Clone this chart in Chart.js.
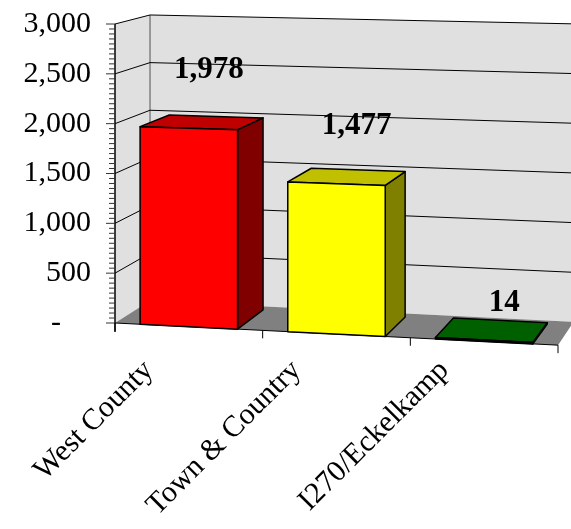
<!DOCTYPE html>
<html>
<head>
<meta charset="utf-8">
<script src="https://cdn.jsdelivr.net/npm/chart.js@4.4.1/dist/chart.umd.min.js"></script>
<style>
  html, body { margin: 0; padding: 0; background: #fff; }
  #wrap { width: 571px; height: 529px; }
</style>
</head>
<body>
<div id="wrap"><canvas id="myChart"></canvas></div>
<script>
var categories = ["West County", "Town & Country", "I270/Eckelkamp"];
var counts = [1978, 1477, 14];
var frontColors = ["#FF0000", "#FFFF00", "#008000"];
var sideColors = ["#800000", "#808000", "#004000"];
var topColors = ["#C00000", "#C0C000", "#006000"];
var yMax = 3000;
var yStep = 500;

// perspective of the excel 3d chart (rough)
var VP_DX = 796, VP_DY = -205;   // vanishing point, relative to chart area top-left
var DEPTH = 0.044;               // full depth of the walls
var BAR_DEPTH = 0.86;            // bars fill this part of it
var SLOPE_TOP = 0.021, SLOPE_EXTRA = 0.029;

function proj(ca, x, y, z) {
	var f = (y - ca.top) / (ca.bottom - ca.top);
	var yf = y + (x - ca.left) * (SLOPE_TOP + SLOPE_EXTRA * f);
	var t = z * DEPTH;
	var vx = ca.left + VP_DX, vy = ca.top + VP_DY;
	return [x + (vx - x) * t, yf + (vy - yf) * t];
}

function poly(ctx, pts, fill, stroke, lw) {
	ctx.beginPath();
	ctx.moveTo(pts[0][0], pts[0][1]);
	for (var i = 1; i < pts.length; i++) ctx.lineTo(pts[i][0], pts[i][1]);
	ctx.closePath();
	if (fill) { ctx.fillStyle = fill; ctx.fill(); }
	if (stroke) { ctx.strokeStyle = stroke; ctx.lineWidth = lw || 1; ctx.stroke(); }
}

function line(ctx, a, b, color, lw) {
	ctx.beginPath();
	ctx.moveTo(a[0], a[1]);
	ctx.lineTo(b[0], b[1]);
	ctx.strokeStyle = color;
	ctx.lineWidth = lw || 1;
	ctx.stroke();
}

var box3d = {
	id: "box3d",
	beforeDatasetsDraw: function(chart) {
		var ctx = chart.ctx, ca = chart.chartArea;
		var ys = chart.scales.y, xs = chart.scales.x;
		var L = ca.left, R = ca.right, T = ca.top, B = ca.bottom;
		ctx.save();
		ctx.lineJoin = "round";
		// walls
		poly(ctx, [proj(ca, L, T, 1), proj(ca, R, T, 1), proj(ca, R, B, 1), proj(ca, L, B, 1)], "#E0E0E0");
		poly(ctx, [proj(ca, L, T, 0), proj(ca, L, T, 1), proj(ca, L, B, 1), proj(ca, L, B, 0)], "#E0E0E0");
		line(ctx, proj(ca, L, T, 1), proj(ca, L, B, 1), "#808080", 1.5);
		// gridlines
		for (var v = yStep; v <= yMax; v += yStep) {
			var y = ys.getPixelForValue(v);
			ctx.beginPath();
			var p0 = proj(ca, L, y, 0), p1 = proj(ca, L, y, 1), p2 = proj(ca, R, y, 1);
			ctx.moveTo(p0[0], p0[1]); ctx.lineTo(p1[0], p1[1]); ctx.lineTo(p2[0], p2[1]);
			ctx.strokeStyle = "#000"; ctx.lineWidth = 1; ctx.stroke();
		}
		// floor
		poly(ctx, [proj(ca, L, B, 0), proj(ca, R, B, 0), proj(ca, R, B, 1), proj(ca, L, B, 1)], "#808080");
		line(ctx, proj(ca, L, B, 0), proj(ca, R, B, 0), "#000", 1);
		// y axis with minor ticks
		line(ctx, [L, T], [L, B + 9], "#000", 1.5);
		for (var m = 0; m <= yMax; m += 50) {
			var my = ys.getPixelForValue(m);
			line(ctx, [L - (m % yStep === 0 ? 9 : 6), my], [L, my], "#333", 1);
		}
		// x tick marks at category boundaries
		var n = categories.length;
		for (var i = 0; i <= n; i++) {
			var bx;
			if (i === 0) bx = L;
			else if (i === n) bx = R;
			else bx = (xs.getPixelForValue(i - 1) + xs.getPixelForValue(i)) / 2;
			var p = proj(ca, bx, B, 0);
			line(ctx, p, [p[0], p[1] + 8], "#000", 1);
		}
		ctx.restore();
	},
	beforeDatasetDraw: function() {
		return false;
	},
	afterDatasetsDraw: function(chart) {
		var ctx = chart.ctx, ca = chart.chartArea;
		var meta = chart.getDatasetMeta(0);
		ctx.save();
		ctx.lineJoin = "round";
		meta.data.forEach(function(el, i) {
			var xl = el.x - el.width / 2, xr = el.x + el.width / 2;
			var yt = el.y, yb = el.base, d = BAR_DEPTH;
			poly(ctx, [proj(ca, xr, yt, 0), proj(ca, xr, yt, d), proj(ca, xr, yb, d), proj(ca, xr, yb, 0)], sideColors[i], "#000", 1.5);
			poly(ctx, [proj(ca, xl, yt, 0), proj(ca, xr, yt, 0), proj(ca, xr, yt, d), proj(ca, xl, yt, d)], topColors[i], "#000", 1.5);
			poly(ctx, [proj(ca, xl, yt, 0), proj(ca, xr, yt, 0), proj(ca, xr, yb, 0), proj(ca, xl, yb, 0)], frontColors[i], "#000", 1.5);
		});
		// value labels
		ctx.font = "bold 31px 'Liberation Serif'";
		ctx.fillStyle = "#000";
		ctx.textAlign = "center";
		ctx.textBaseline = "middle";
		meta.data.forEach(function(el, i) {
			var top = proj(ca, el.x, el.y, 0);
			var up = Math.min(58, (el.base - el.y) + 36);
			ctx.fillText(counts[i].toLocaleString("en-US"), top[0] + 20, top[1] - up);
		});
		ctx.restore();
	}
};

var ctx = document.getElementById("myChart").getContext("2d");
var myChart = new Chart(ctx, {
	type: "bar",
	data: {
		labels: categories,
		datasets: [{
			data: counts,
			backgroundColor: frontColors,
			borderColor: "#000",
			borderWidth: 1.5,
			categoryPercentage: 1,
			barPercentage: 0.66
		}]
	},
	options: {
		responsive: true,
		maintainAspectRatio: false,
		animation: false,
		layout: { padding: { top: 24, right: 13, left: 0, bottom: 0 } },
		plugins: { legend: { display: false }, tooltip: { enabled: false } },
		scales: {
			x: {
				grid: { display: false, drawTicks: false },
				border: { display: false },
				ticks: {
					color: "#000",
					font: { family: "Liberation Serif", size: 30 },
					minRotation: 45,
					maxRotation: 45,
					labelOffset: -40,
					padding: 30
				},
				afterFit: function(scale) {
					scale.height = 206;
					scale.paddingLeft = 0;
					scale.paddingRight = 0;
				}
			},
			y: {
				min: 0,
				max: yMax,
				grid: { display: false, drawTicks: false },
				border: { display: false },
				ticks: {
					stepSize: yStep,
					color: "#000",
					font: { family: "Liberation Serif", size: 30 },
					padding: 24,
					callback: function(v) {
						return v === 0 ? "-\u2007\u2007" : v.toLocaleString("en-US");
					}
				},
				afterFit: function(scale) {
					scale.width = 115;
					scale.paddingTop = 0;
					scale.paddingBottom = 0;
				}
			}
		}
	},
	plugins: [box3d]
});
</script>
</body>
</html>
